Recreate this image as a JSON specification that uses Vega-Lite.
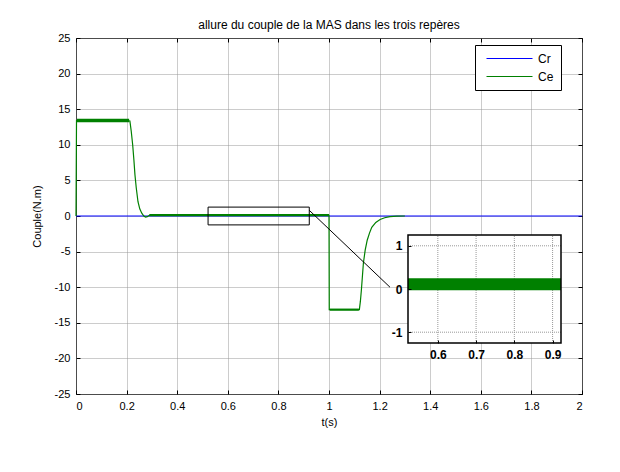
{
  "$schema": "https://vega.github.io/schema/vega-lite/v6.json",
  "width": 506,
  "height": 356,
  "autosize": "none",
  "padding": {"left": 76, "top": 38, "right": 38, "bottom": 78},
  "background": "white",
  "title": {
    "text": "allure du couple de la MAS dans les trois repères",
    "font": "Liberation Sans",
    "fontSize": 12,
    "fontWeight": "normal",
    "color": "black",
    "anchor": "middle",
    "offset": 0
  },
  "config": {
    "view": {"stroke": "black", "strokeWidth": 1},
    "axis": {
      "labelFont": "Liberation Sans",
      "labelFontSize": 11,
      "labelColor": "black",
      "titleFont": "Liberation Sans",
      "titleFontSize": 11,
      "titleFontWeight": "normal",
      "titleColor": "black",
      "tickColor": "black",
      "domain": false,
      "labelOverlap": false
    }
  },
  "datasets": {
    "cr": [
      {"t": 0, "v": 0, "serie": "Cr"},
      {"t": 2, "v": 0, "serie": "Cr"}
    ],
    "ce": [
      {"t": 0, "v": 0, "serie": "Ce"},
      {"t": 0.002, "v": 13.4, "serie": "Ce"},
      {"t": 0.1, "v": 13.4, "serie": "Ce"},
      {"t": 0.2, "v": 13.4, "serie": "Ce"},
      {"t": 0.213, "v": 13.35, "serie": "Ce"},
      {"t": 0.218, "v": 12.0, "serie": "Ce"},
      {"t": 0.224, "v": 10.0, "serie": "Ce"},
      {"t": 0.229, "v": 7.8, "serie": "Ce"},
      {"t": 0.233, "v": 5.8, "serie": "Ce"},
      {"t": 0.238, "v": 4.0, "serie": "Ce"},
      {"t": 0.245, "v": 2.0, "serie": "Ce"},
      {"t": 0.252, "v": 1.0, "serie": "Ce"},
      {"t": 0.26, "v": 0.4, "serie": "Ce"},
      {"t": 0.268, "v": 0.0, "serie": "Ce"},
      {"t": 0.275, "v": -0.15, "serie": "Ce"},
      {"t": 0.282, "v": -0.1, "serie": "Ce"},
      {"t": 0.29, "v": 0.1, "serie": "Ce"},
      {"t": 0.6, "v": 0.1, "serie": "Ce"},
      {"t": 1.0, "v": 0.1, "serie": "Ce"},
      {"t": 1.001, "v": -13.15, "serie": "Ce"},
      {"t": 1.12, "v": -13.15, "serie": "Ce"},
      {"t": 1.124, "v": -12.0, "serie": "Ce"},
      {"t": 1.128, "v": -10.4, "serie": "Ce"},
      {"t": 1.132, "v": -8.5, "serie": "Ce"},
      {"t": 1.136, "v": -6.6, "serie": "Ce"},
      {"t": 1.143, "v": -4.8, "serie": "Ce"},
      {"t": 1.151, "v": -3.4, "serie": "Ce"},
      {"t": 1.16, "v": -2.4, "serie": "Ce"},
      {"t": 1.169, "v": -1.6, "serie": "Ce"},
      {"t": 1.185, "v": -0.9, "serie": "Ce"},
      {"t": 1.202, "v": -0.5, "serie": "Ce"},
      {"t": 1.22, "v": -0.25, "serie": "Ce"},
      {"t": 1.241, "v": -0.1, "serie": "Ce"},
      {"t": 1.268, "v": -0.03, "serie": "Ce"},
      {"t": 1.3, "v": 0, "serie": "Ce"}
    ],
    "bruit": [
      {"seg": "demarrage", "t": 0.004, "lo": 13.15, "hi": 13.65},
      {"seg": "demarrage", "t": 0.21, "lo": 13.15, "hi": 13.65},
      {"seg": "palier", "t": 0.29, "lo": -0.03, "hi": 0.28},
      {"seg": "palier", "t": 1.0, "lo": -0.03, "hi": 0.28},
      {"seg": "inversion", "t": 1.003, "lo": -13.3, "hi": -13.0},
      {"seg": "inversion", "t": 1.118, "lo": -13.3, "hi": -13.0}
    ],
    "cadre": [
      {"x0": 0.522, "x1": 0.922, "y0": -1.25, "y1": 1.25}
    ],
    "liaison": [
      {"x0": 0.922, "y0": 0.8, "x1": 1.241, "y1": -10.0}
    ],
    "zoom_bande": [
      {"t": 0.522, "lo": -0.03, "hi": 0.25},
      {"t": 0.922, "lo": -0.03, "hi": 0.25}
    ],
    "zoom_grille_x": [{"x": 0.6}, {"x": 0.7}, {"x": 0.8}, {"x": 0.9}],
    "zoom_grille_y": [{"y": -1}, {"y": 0}, {"y": 1}]
  },
  "layer": [
    {
      "layer": [
        {
          "data": {"name": "cr"},
          "mark": {"type": "line", "strokeWidth": 1},
          "encoding": {
            "x": {
              "field": "t", "type": "quantitative",
              "scale": {"domain": [0, 2], "nice": false, "zero": false},
              "axis": {
                "orient": "bottom",
                "values": [0, 0.2, 0.4, 0.6, 0.8, 1, 1.2, 1.4, 1.6, 1.8, 2],
                "labelExpr": "'' + datum.value",
                "grid": true, "gridColor": "#999", "gridDash": [1, 1],
                "tickSize": -4, "labelPadding": 10,
                "title": "t(s)", "titlePadding": 5
              }
            },
            "y": {
              "field": "v", "type": "quantitative",
              "scale": {"domain": [-25, 25], "nice": false, "zero": false},
              "axis": {
                "orient": "left",
                "values": [-25, -20, -15, -10, -5, 0, 5, 10, 15, 20, 25],
                "labelExpr": "'' + datum.value",
                "grid": true, "gridColor": "#999", "gridDash": [1, 1],
                "tickSize": -4, "labelPadding": 10,
                "title": "Couple(N.m)", "titlePadding": 12
              }
            },
            "color": {
              "field": "serie", "type": "nominal",
              "scale": {"domain": ["Cr", "Ce"], "range": ["#0000ff", "#008000"]},
              "legend": {
                "title": null,
                "orient": "none",
                "legendX": 399,
                "legendY": 7,
                "strokeColor": "black",
                "fillColor": "white",
                "padding": 7,
                "symbolType": "stroke",
                "symbolSize": 2116,
                "symbolStrokeWidth": 1,
                "symbolOffset": 4,
                "clipHeight": 13,
                "rowPadding": 5,
                "labelOffset": 5,
                "labelFont": "Liberation Sans",
                "labelFontSize": 12,
                "labelColor": "black"
              }
            }
          }
        },
        {
          "data": {"name": "bruit"},
          "mark": {"type": "area", "color": "#008000", "opacity": 1},
          "encoding": {
            "x": {"field": "t", "type": "quantitative", "axis": null},
            "y": {"field": "lo", "type": "quantitative", "axis": null},
            "y2": {"field": "hi"},
            "detail": {"field": "seg"}
          }
        },
        {
          "data": {"name": "ce"},
          "mark": {"type": "line", "strokeWidth": 1.2},
          "encoding": {
            "x": {"field": "t", "type": "quantitative", "axis": null},
            "y": {"field": "v", "type": "quantitative", "axis": null},
            "color": {"field": "serie", "type": "nominal"}
          }
        },
        {
          "data": {"name": "cadre"},
          "mark": {"type": "rect", "fillOpacity": 0, "stroke": "black", "strokeWidth": 1},
          "encoding": {
            "x": {
              "field": "x0", "type": "quantitative",
              "axis": {
                "orient": "top",
                "values": [0, 0.2, 0.4, 0.6, 0.8, 1, 1.2, 1.4, 1.6, 1.8, 2],
                "labels": false, "grid": false, "tickSize": -4, "title": null
              }
            },
            "x2": {"field": "x1"},
            "y": {
              "field": "y0", "type": "quantitative",
              "axis": {
                "orient": "right",
                "values": [-25, -20, -15, -10, -5, 0, 5, 10, 15, 20, 25],
                "labels": false, "grid": false, "tickSize": -4, "title": null
              }
            },
            "y2": {"field": "y1"}
          }
        },
        {
          "data": {"name": "liaison"},
          "mark": {"type": "rule", "color": "black", "strokeWidth": 1},
          "encoding": {
            "x": {"field": "x0", "type": "quantitative", "axis": null},
            "y": {"field": "y0", "type": "quantitative", "axis": null},
            "x2": {"field": "x1"},
            "y2": {"field": "y1"}
          }
        }
      ],
      "resolve": {"axis": {"x": "independent", "y": "independent"}}
    },
    {
      "layer": [
        {
          "data": {"name": "cadre"},
          "mark": {"type": "rect", "fill": "white", "strokeWidth": 0},
          "encoding": {
            "x": {
              "field": "x0", "type": "quantitative",
              "scale": {"domain": [0.522, 0.922], "range": [332, 485], "nice": false, "zero": false},
              "axis": {
                "orient": "bottom",
                "offset": -51,
                "values": [0.6, 0.7, 0.8, 0.9],
                "labelExpr": "'' + datum.value",
                "grid": false,
                "tickSize": -3,
                "labelPadding": 9,
                "labelFontSize": 12,
                "labelFontWeight": "bold",
                "title": null,
                "zindex": 1
              }
            },
            "x2": {"field": "x1"},
            "y": {
              "field": "y0", "type": "quantitative",
              "scale": {"domain": [-1.25, 1.25], "range": [305, 197], "nice": false, "zero": false},
              "axis": {
                "orient": "left",
                "offset": -332,
                "values": [-1, 0, 1],
                "labelExpr": "'' + datum.value",
                "grid": false,
                "tickSize": -3,
                "labelPadding": 9,
                "labelFontSize": 12,
                "labelFontWeight": "bold",
                "title": null,
                "zindex": 1
              }
            },
            "y2": {"field": "y1"}
          }
        },
        {
          "data": {"name": "zoom_grille_x"},
          "mark": {"type": "rule", "color": "#999", "strokeDash": [1, 1], "strokeWidth": 1},
          "encoding": {
            "x": {"field": "x", "type": "quantitative"},
            "y": {"datum": -1.25, "type": "quantitative"},
            "y2": {"datum": 1.25}
          }
        },
        {
          "data": {"name": "zoom_grille_y"},
          "mark": {"type": "rule", "color": "#999", "strokeDash": [1, 1], "strokeWidth": 1},
          "encoding": {
            "y": {"field": "y", "type": "quantitative"},
            "x": {"datum": 0.522, "type": "quantitative"},
            "x2": {"datum": 0.922}
          }
        },
        {
          "data": {"name": "zoom_bande"},
          "mark": {"type": "area", "color": "#008000", "opacity": 1},
          "encoding": {
            "x": {"field": "t", "type": "quantitative"},
            "y": {"field": "lo", "type": "quantitative"},
            "y2": {"field": "hi"}
          }
        },
        {
          "data": {"name": "cadre"},
          "mark": {"type": "rect", "fillOpacity": 0, "stroke": "black", "strokeWidth": 1.5},
          "encoding": {
            "x": {"field": "x0", "type": "quantitative"},
            "x2": {"field": "x1"},
            "y": {"field": "y0", "type": "quantitative"},
            "y2": {"field": "y1"}
          }
        }
      ]
    }
  ],
  "resolve": {
    "scale": {"x": "independent", "y": "independent"},
    "axis": {"x": "independent", "y": "independent"}
  }
}
